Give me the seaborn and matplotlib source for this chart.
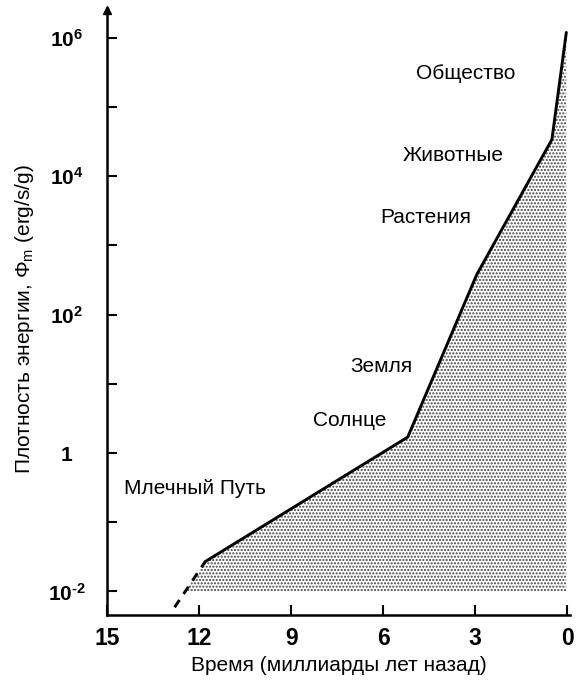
import numpy as np
import matplotlib
matplotlib.use('Agg')
import matplotlib.pyplot as plt
import seaborn as sns

# Energy rate density vs. time
time_dashed = [12.8, 11.8]
phi_dashed = [0.0059, 0.027]
time_solid = [11.8, 5.2, 2.95, 0.5, 0.03]
phi_solid = [0.027, 1.7, 380, 34000, 1.2e6]

labels = ['Млечный Путь', 'Солнце', 'Земля', 'Растения', 'Животные', 'Общество']
label_time = [12.15, 7.1, 6.05, 4.6, 3.7, 3.3]
label_phi = [0.31, 3.0, 18, 2500, 20000, 310000]

x_ticks = [15, 12, 9, 6, 3, 0]
y_ticks = [1e-2, 1e-1, 1, 10, 1e2, 1e3, 1e4, 1e5, 1e6]
y_ticklabels = ['$\\mathbf{10^{\u20102}}$', '', r'$\mathbf{1}$', '', r'$\mathbf{10^{2}}$', '',
                r'$\mathbf{10^{4}}$', '', r'$\mathbf{10^{6}}$']
fill_floor = 1e-2

sns.set_style('white')
plt.rcParams['font.family'] = ['Liberation Sans', 'DejaVu Sans']
plt.rcParams['mathtext.fontset'] = 'custom'
plt.rcParams['mathtext.rm'] = 'Liberation Sans'
plt.rcParams['mathtext.it'] = 'Liberation Sans:italic'
plt.rcParams['mathtext.bf'] = 'Liberation Sans:bold'
plt.rcParams['hatch.linewidth'] = 1.0
for key in ['text.color', 'axes.labelcolor', 'xtick.color', 'ytick.color']:
    plt.rcParams[key] = 'black'

fig = plt.figure(figsize=(5.79, 6.81), dpi=100)
ax = fig.add_axes([0.185, 0.097, 0.80, 0.888])

# shaded area under the curve, down to 10^-2
t_all = np.array(time_dashed[:-1] + time_solid)
p_all = np.array(phi_dashed[:-1] + phi_solid)
lp = np.log10(p_all)
t_cross = np.interp(np.log10(fill_floor), lp[:2], t_all[:2])
keep = p_all >= fill_floor
t_fill = np.concatenate([[t_cross], t_all[keep]])
p_fill = np.concatenate([[fill_floor], p_all[keep]])
ax.fill_between(t_fill, p_fill, fill_floor, facecolor='white', edgecolor='0.25',
                hatch='.....', linewidth=0)

sns.lineplot(x=time_solid, y=phi_solid, sort=False, color='black', linewidth=2.1, ax=ax)
sns.lineplot(x=time_dashed, y=phi_dashed, sort=False, color='black', linewidth=2.1,
             linestyle=(0, (3, 2.5)), ax=ax)

for lab, tx, py in zip(labels, label_time, label_phi):
    ax.text(tx, py, lab, fontsize=15, ha='center', va='center', color='black')

ax.set_yscale('log')
ax.set_xlim(15, -0.1)
ax.set_ylim(10 ** -2.34, 10 ** 6.4)
ax.set_xticks(x_ticks)
ax.set_xticklabels([str(v) for v in x_ticks], fontsize=16.5, fontweight='bold')
ax.set_yticks(y_ticks)
ax.set_yticklabels(y_ticklabels, fontsize=15, ha='center')
ax.yaxis.set_minor_locator(matplotlib.ticker.NullLocator())
ax.tick_params(direction='in', length=7, width=1.5, pad=9, left=True, bottom=True)
ax.tick_params(axis='y', pad=29)

for s in ['top', 'right']:
    ax.spines[s].set_visible(False)
for s in ['left', 'bottom']:
    ax.spines[s].set_linewidth(1.8)
    ax.spines[s].set_color('black')
ax.plot(0, 1, marker='^', color='black', markersize=6, transform=ax.transAxes, clip_on=False)

ax.set_xlabel('Время (миллиарды лет назад)', fontsize=15, labelpad=4)
ax.set_ylabel('Плотность энергии, Φ$_\\mathrm{m}$ (erg/s/g)', fontsize=15, va='center')
ax.yaxis.set_label_coords(-0.179, 0.49)

fig.savefig('out.png', dpi=100)
